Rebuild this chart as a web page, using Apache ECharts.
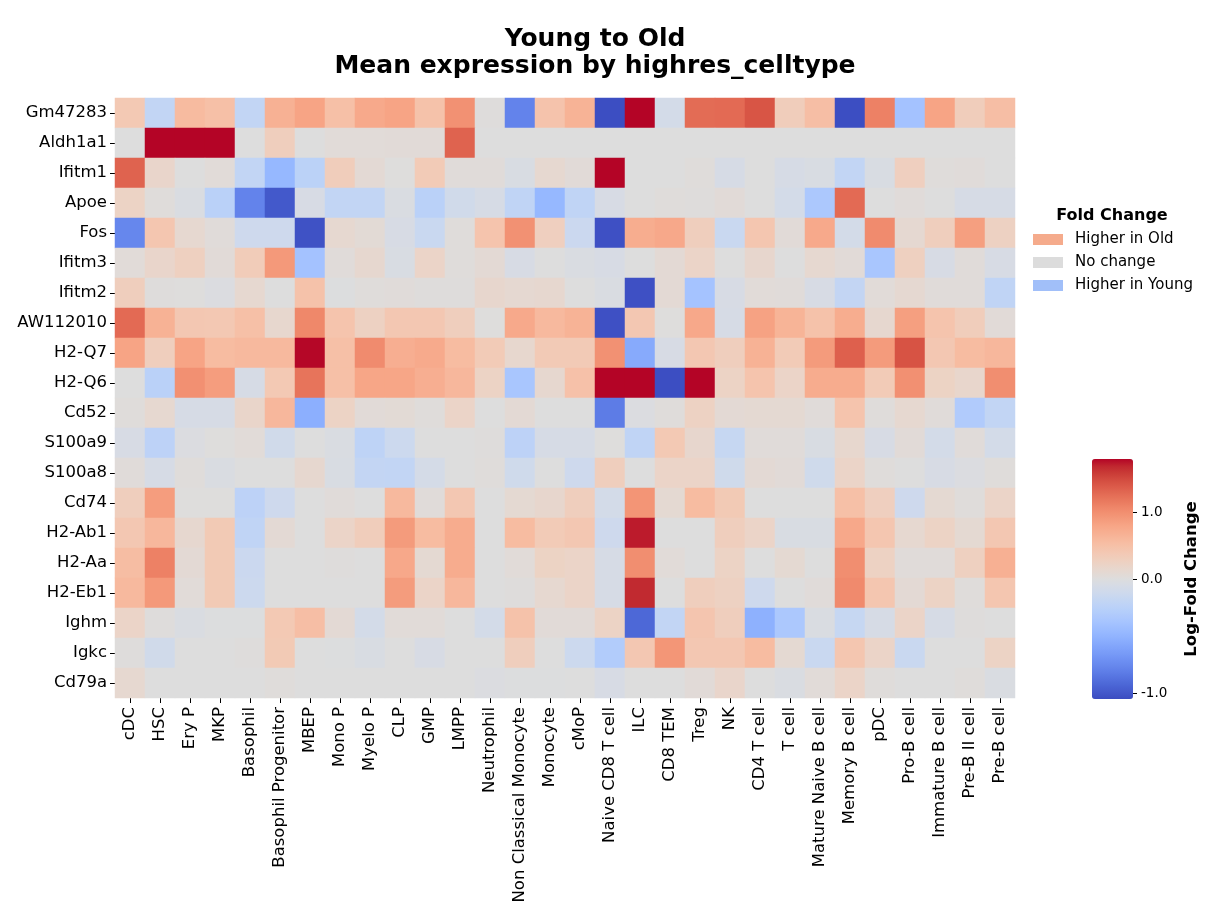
<!DOCTYPE html>
<html>
<head>
<meta charset="utf-8">
<script src="https://cdn.jsdelivr.net/npm/echarts@6/dist/echarts.min.js"></script>
<style>
  html, body { margin: 0; padding: 0; background: #fff; }
  #chart { width: 1212px; height: 913px; }
</style>
</head>
<body>
<div id="chart"></div>
<script>
const genes = ["Gm47283", "Aldh1a1", "Ifitm1", "Apoe", "Fos", "Ifitm3", "Ifitm2", "AW112010", "H2-Q7", "H2-Q6",
  "Cd52", "S100a9", "S100a8", "Cd74", "H2-Ab1", "H2-Aa", "H2-Eb1", "Ighm", "Igkc", "Cd79a"];

const cellTypes = ["cDC", "HSC", "Ery P", "MKP", "Basophil", "Basophil Progenitor", "MBEP", "Mono P", "Myelo P", "CLP",
  "GMP", "LMPP", "Neutrophil", "Non Classical Monocyte", "Monocyte", "cMoP", "Naive CD8 T cell", "ILC", "CD8 TEM", "Treg",
  "NK", "CD4 T cell", "T cell", "Mature Naive B cell", "Memory B cell", "pDC", "Pro-B cell", "Immature B cell", "Pre-B II cell", "Pre-B cell"];

// log-fold change, one row per gene (same order as genes), columns follow cellTypes
const lfc = [
  [0.38, -0.2, 0.56, 0.5, -0.2, 0.67, 0.8, 0.5, 0.75, 0.8, 0.47, 0.97, 0.02, -0.78, 0.46, 0.65, -1.04, 1.79, -0.08, 1.26, 1.27, 1.42, 0.32, 0.52, -1.04, 1.1, -0.39, 0.8, 0.32, 0.52],
  [0, 1.79, 1.79, 1.79, 0, 0.3, 0, 0.05, 0.05, 0.06, 0.06, 1.32, 0, 0, 0, 0, 0, 0, 0, 0, 0, 0, 0, 0, 0, 0, 0, 0, 0, 0],
  [1.32, 0.17, 0, 0.05, -0.2, -0.47, -0.24, 0.32, 0.08, 0.01, 0.35, 0.04, 0.04, -0.04, 0.12, 0.06, 1.79, 0, 0, 0.03, -0.06, 0, -0.06, -0.04, -0.2, -0.04, 0.28, 0.03, 0.04, 0],
  [0.22, 0.03, -0.03, -0.25, -0.78, -0.99, -0.05, -0.2, -0.2, -0.03, -0.25, -0.1, -0.06, -0.21, -0.47, -0.21, -0.05, 0, 0.03, 0.02, 0.06, 0, -0.08, -0.34, 1.27, 0, 0.04, 0, -0.06, -0.06],
  [-0.76, 0.42, 0.12, 0.04, -0.12, -0.12, -1.02, 0.12, 0.07, -0.05, -0.15, 0.03, 0.45, 0.97, 0.28, -0.14, -1.03, 0.71, 0.76, 0.3, -0.15, 0.42, 0.06, 0.75, -0.08, 1.02, 0.11, 0.3, 0.85, 0.25],
  [0.05, 0.17, 0.27, 0.06, 0.34, 0.9, -0.39, 0.04, 0.13, -0.04, 0.2, 0.03, 0.08, -0.05, 0, -0.03, -0.05, 0, 0.08, 0.2, 0, 0.15, 0, 0.12, 0.06, -0.36, 0.27, -0.05, 0.04, -0.05],
  [0.3, 0.02, 0.01, -0.02, 0.12, 0, 0.47, -0.01, 0.03, 0.04, 0.02, 0.02, 0.15, 0.11, 0.13, 0, -0.03, -1.03, 0.08, -0.38, -0.05, 0.05, 0.04, -0.05, -0.19, 0.05, 0.11, 0.04, 0.04, -0.21],
  [1.27, 0.66, 0.4, 0.39, 0.5, 0.14, 1.05, 0.45, 0.25, 0.4, 0.4, 0.3, 0.01, 0.75, 0.58, 0.65, -1.03, 0.4, 0.01, 0.76, -0.06, 0.82, 0.64, 0.47, 0.71, 0.13, 0.85, 0.45, 0.32, 0.06],
  [0.8, 0.3, 0.8, 0.55, 0.58, 0.58, 1.78, 0.5, 1.02, 0.7, 0.74, 0.55, 0.35, 0.14, 0.36, 0.36, 0.97, -0.56, -0.05, 0.4, 0.3, 0.66, 0.35, 0.89, 1.34, 0.89, 1.43, 0.4, 0.55, 0.6],
  [0, -0.25, 0.98, 0.87, -0.06, 0.38, 1.2, 0.5, 0.78, 0.78, 0.7, 0.6, 0.22, -0.36, 0.13, 0.48, 1.79, 1.79, -1.04, 1.79, 0.22, 0.45, 0.2, 0.72, 0.72, 0.35, 0.98, 0.23, 0.16, 1.0],
  [0.03, 0.12, -0.06, -0.06, 0.18, 0.6, -0.53, 0.22, 0.06, 0.07, 0.03, 0.2, 0, 0.08, 0, 0, -0.82, -0.02, 0.03, 0.24, 0.08, 0.1, 0.1, 0.04, 0.45, 0.03, 0.12, 0.04, -0.31, -0.2],
  [-0.05, -0.23, -0.02, 0.01, 0.05, -0.1, 0, -0.03, -0.22, -0.13, 0, 0, 0.02, -0.23, -0.06, -0.06, 0.01, -0.21, 0.38, 0.15, -0.17, 0.04, 0.04, -0.04, 0.14, -0.05, 0.06, -0.08, 0.04, -0.08],
  [0.04, -0.06, 0.03, -0.03, 0, 0, 0.13, -0.04, -0.19, -0.2, -0.07, 0, 0.03, -0.11, 0, -0.12, 0.3, 0, 0.2, 0.2, -0.11, 0.08, 0.06, -0.11, 0.2, 0.03, 0, -0.05, -0.02, 0.03],
  [0.3, 0.87, 0.01, 0.01, -0.23, -0.12, 0, 0.04, 0, 0.58, 0.04, 0.4, 0, 0.1, 0.15, 0.3, -0.08, 0.94, 0.1, 0.55, 0.37, 0, 0, 0, 0.5, 0.28, -0.12, 0.1, 0.03, 0.2],
  [0.4, 0.6, 0.13, 0.37, -0.21, 0.08, 0, 0.2, 0.32, 0.89, 0.55, 0.72, 0, 0.55, 0.35, 0.4, -0.12, 1.72, 0, 0, 0.3, 0.2, -0.04, -0.04, 0.76, 0.42, 0.12, 0.22, 0.1, 0.4],
  [0.53, 1.1, 0.08, 0.37, -0.14, 0, 0, 0.02, 0, 0.76, 0.1, 0.72, 0, 0.05, 0.23, 0.2, -0.06, 1.0, 0.05, 0, 0.22, 0, 0.1, 0, 1.0, 0.24, 0.04, 0.04, 0.27, 0.68],
  [0.58, 0.9, 0.05, 0.37, -0.13, 0, 0, 0, 0, 0.88, 0.2, 0.6, 0, 0.02, 0.12, 0.2, -0.06, 1.67, 0, 0.3, 0.25, -0.12, 0, 0.04, 1.03, 0.42, 0.08, 0.22, 0.03, 0.42],
  [0.2, 0.02, -0.03, -0.01, -0.01, 0.38, 0.52, 0.08, -0.08, 0.05, 0.05, 0, -0.08, 0.47, 0.06, 0.06, 0.22, -0.92, -0.2, 0.43, 0.3, -0.52, -0.34, -0.03, -0.17, -0.06, 0.2, -0.06, 0.02, 0],
  [0.02, -0.1, 0, 0, 0.02, 0.37, 0, -0.01, -0.04, 0, -0.05, 0, 0, 0.3, 0, -0.13, -0.3, 0.4, 0.93, 0.4, 0.4, 0.55, 0.1, -0.15, 0.42, 0.2, -0.15, 0, 0, 0.22],
  [0.12, 0, 0, 0, 0, 0.03, 0, 0, 0, 0, 0, 0, -0.02, -0.01, -0.01, 0, -0.05, 0, 0, 0.06, 0.17, 0, -0.03, 0.05, 0.2, 0.03, 0, 0, 0.03, -0.03],
];

const colorbarTicks = [1.0, 0.0, -1.0];
const legendNames = ["Higher in Old", "No change", "Higher in Young"];
const legendColors = ["#f5ab8c", "#dcdcdc", "#a1bff9"];

// two-slope norm centred on 0
const VMIN = -1.05, VMAX = 1.79;
const toNorm = (v) => (v >= 0 ? 0.5 + 0.5 * Math.min(v, VMAX) / VMAX : 0.5 - 0.5 * Math.max(v, VMIN) / VMIN);

// matplotlib coolwarm, 33 stops
const coolwarm = [
  [59, 76, 192], [68, 90, 204], [77, 104, 215], [87, 117, 225], [98, 130, 234], [108, 142, 241], [119, 154, 247],
  [130, 165, 251], [141, 176, 254], [152, 185, 255], [163, 194, 255], [174, 201, 253], [184, 208, 249], [194, 213, 244],
  [204, 217, 238], [213, 219, 230], [221, 221, 221], [229, 216, 209], [236, 211, 197], [241, 204, 185], [245, 196, 173],
  [247, 187, 160], [247, 177, 148], [247, 166, 135], [244, 154, 123], [241, 141, 111], [236, 127, 99], [229, 112, 88],
  [222, 96, 77], [213, 80, 66], [203, 62, 56], [192, 40, 47], [180, 4, 38],
].map((c) => `rgb(${c[0]},${c[1]},${c[2]})`);

const FONT = "DejaVu Sans";

const data = [];
lfc.forEach((row, r) => {
  row.forEach((v, c) => {
    data.push([c, r, v, toNorm(v)]);
  });
});

// colorbar geometry
const cbTop = 459, cbH = 240, cbLeft = 1092, cbW = 41;
const cbY = (v) => cbTop + cbH - toNorm(v) * cbH;

const graphics = [];
colorbarTicks.forEach((v) => {
  const y = Math.round(cbY(v)) + 0.5;
  graphics.push({ type: "line", shape: { x1: cbLeft + cbW, y1: y, x2: cbLeft + cbW + 4, y2: y }, style: { stroke: "#000", lineWidth: 1 } });
  graphics.push({
    type: "text", x: cbLeft + cbW + 8, y: y,
    style: { text: v.toFixed(1), font: `13.5px "${FONT}"`, fill: "#000", align: "left", verticalAlign: "middle" },
  });
});
graphics.push({
  type: "text", x: 1192, y: 579, rotation: Math.PI / 2,
  style: { text: "Log-Fold Change", font: `bold 16.5px "${FONT}"`, fill: "#000", align: "center", verticalAlign: "middle" },
});
graphics.push({
  type: "text", x: 1112, y: 216,
  style: { text: "Fold Change", font: `bold 16px "${FONT}"`, fill: "#000", align: "center", verticalAlign: "middle" },
});

const chart = echarts.init(document.getElementById("chart"), null, { renderer: "canvas" });

const option = {
  animation: false,
  backgroundColor: "#fff",
  textStyle: { fontFamily: FONT },
  title: {
    text: "Young to Old\nMean expression by highres_celltype",
    left: 595, top: 26, textAlign: "center", padding: 0,
    textStyle: { fontFamily: FONT, fontSize: 25, fontWeight: "bold", lineHeight: 27, color: "#000" },
  },
  grid: { left: 115, right: 197, top: 98, bottom: 215 },
  xAxis: {
    type: "category", data: cellTypes,
    axisLine: { show: false },
    axisTick: { show: true, length: 5, alignWithLabel: true, lineStyle: { color: "#000" } },
    axisLabel: { rotate: 90, interval: 0, fontSize: 16.5, color: "#000", margin: 9, fontFamily: FONT },
    splitLine: { show: false },
  },
  yAxis: {
    type: "category", data: genes, inverse: true,
    axisLine: { show: false },
    axisTick: { show: true, length: 5, alignWithLabel: true, lineStyle: { color: "#000" } },
    axisLabel: { interval: 0, fontSize: 16.5, color: "#000", margin: 8, fontFamily: FONT },
    splitLine: { show: false },
  },
  visualMap: {
    type: "continuous", seriesIndex: 0, dimension: 3, min: 0, max: 1,
    calculable: false, hoverLink: false, orient: "vertical",
    left: cbLeft, top: cbTop, itemWidth: cbW, itemHeight: cbH, padding: 0,
    inRange: { color: coolwarm },
    text: null, showLabel: false,
  },
  legend: {
    orient: "vertical", left: 1033, top: 232, padding: 0, itemWidth: 30, itemHeight: 11, itemGap: 8,
    selectedMode: false, icon: "rect",
    data: legendNames,
    textStyle: { fontFamily: FONT, fontSize: 15, color: "#000", lineHeight: 15, padding: [0, 0, 0, 7] },
  },
  graphic: graphics,
  series: [
    {
      type: "heatmap", data: data,
      itemStyle: { borderWidth: 0 },
      emphasis: { disabled: true },
      progressive: 0,
    },
    ...legendNames.map((name, i) => ({ type: "bar", name: name, data: [], itemStyle: { color: legendColors[i] } })),
  ],
};

chart.setOption(option);
</script>
</body>
</html>
